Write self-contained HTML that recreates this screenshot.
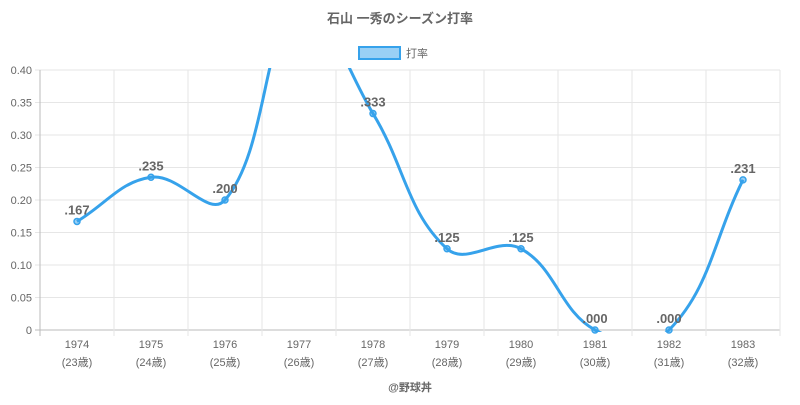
<!DOCTYPE html>
<html><head><meta charset="utf-8"><style>
body{margin:0;background:#fff;width:800px;height:400px;overflow:hidden;font-family:"Liberation Sans","Noto Sans CJK JP",sans-serif}
</style></head><body>
<svg id="chart" width="800" height="400" xmlns="http://www.w3.org/2000/svg" font-family="Liberation Sans, Noto Sans CJK JP, sans-serif">
<text x="400" y="23" text-anchor="middle" font-size="13" font-weight="bold" fill="#666">石山 一秀のシーズン打率</text>
<g>
<rect x="359" y="47" width="41" height="12" fill="rgba(54,162,235,0.5)" stroke="#36a2eb" stroke-width="2"/>
<text x="406" y="57" font-size="11" fill="#666">打率</text>
</g>
<g id="grid"></g><g id="series"></g><g id="labels"></g>
<text x="410" y="391" text-anchor="middle" font-size="11" font-weight="bold" fill="#666">@野球丼</text>
</svg>
<script>
const years=["1974","1975","1976","1977","1978","1979","1980","1981","1982","1983"];
const ages=["(23歳)","(24歳)","(25歳)","(26歳)","(27歳)","(28歳)","(29歳)","(30歳)","(31歳)","(32歳)"];
const values=[0.167,0.235,0.200,0.500,0.333,0.125,0.125,0.000,0.000,0.231];
const valueLabels=[".167",".235",".200",".500",".333",".125",".125",".000",".000",".231"];
const yTicks=[0,0.05,0.10,0.15,0.20,0.25,0.30,0.35,0.40];
const yTickLabels=["0","0.05","0.10","0.15","0.20","0.25","0.30","0.35","0.40"];
const L=40,R=780,T=70,B=330,yMax=0.4;
const bw=(R-L)/years.length;
const xs=i=>L+bw*(i+0.5);
const ys=v=>B-(v/yMax)*(B-T);
const NS="http://www.w3.org/2000/svg";
function mk(tag,attrs,parent){const e=document.createElementNS(NS,tag);for(const k in attrs)e.setAttribute(k,attrs[k]);parent.appendChild(e);return e;}
const grid=document.getElementById('grid'),ser=document.getElementById('series'),lab=document.getElementById('labels');
yTicks.forEach((t,i)=>{
 const l=mk('line',{x1:L-5,x2:R,y1:ys(t),y2:ys(t),stroke:i==0?'#bbb':'#e6e6e6','stroke-width':1},grid);
 
 
 const tx=mk('text',{x:L-8,y:ys(t)+4,'text-anchor':'end','font-size':11,fill:'#666'},grid);
 tx.textContent=yTickLabels[i];
 
 
});
for(let i=0;i<=years.length;i++){
 const x=L+bw*i;
 const l=mk('line',{x1:x,x2:x,y1:T,y2:B+6,stroke:i==0?'#bbb':'#e6e6e6','stroke-width':1},grid);
 
 
}
years.forEach((y,i)=>{
 const t=mk('text',{x:xs(i),y:348,'text-anchor':'middle','font-size':11,fill:'#666'},grid);t.textContent=y;
 
 
 const a=mk('text',{x:xs(i),y:366,'text-anchor':'middle','font-size':11,fill:'#666'},grid);a.textContent=ages[i];
 
 
});
const defs=mk('defs',{},ser);
const cp=mk('clipPath',{id:'clip'},defs);
mk('rect',{x:L,y:T-2,width:R-L,height:B-T+4},cp);
const pts=values.map((v,i)=>[xs(i),ys(v)]);
const tension=0.4;
let d=`M${pts[0][0]},${pts[0][1]}`;
const cps=pts.map((p,i)=>{
 const prev=pts[i-1]||p,next=pts[i+1]||p;
 const d01=Math.hypot(p[0]-prev[0],p[1]-prev[1]),d12=Math.hypot(next[0]-p[0],next[1]-p[1]);
 let fa=d01/(d01+d12)||0,fb=d12/(d01+d12)||0;
 fa*=tension;fb*=tension;
 return {p:[p[0]-fa*(next[0]-prev[0]),p[1]-fa*(next[1]-prev[1])],n:[p[0]+fb*(next[0]-prev[0]),p[1]+fb*(next[1]-prev[1])]};
});
for(let i=1;i<pts.length;i++){d+=` C${cps[i-1].n[0]},${cps[i-1].n[1]} ${cps[i].p[0]},${cps[i].p[1]} ${pts[i][0]},${pts[i][1]}`;}
const path=mk('path',{d:d,fill:'none',stroke:'#36a2eb','stroke-width':3,'clip-path':'url(#clip)'},ser);


values.forEach((v,i)=>{
 if(v>yMax)return;
 const c=mk('circle',{cx:xs(i),cy:ys(v),r:3,fill:'rgba(54,162,235,0.5)',stroke:'#36a2eb','stroke-width':1.5},ser);
 
 
 const t=mk('text',{x:xs(i),y:ys(v)-7,'text-anchor':'middle','font-size':13,'font-weight':'bold',fill:'#666'},lab);
 t.textContent=valueLabels[i];
 
 
});
</script>
</body></html>
